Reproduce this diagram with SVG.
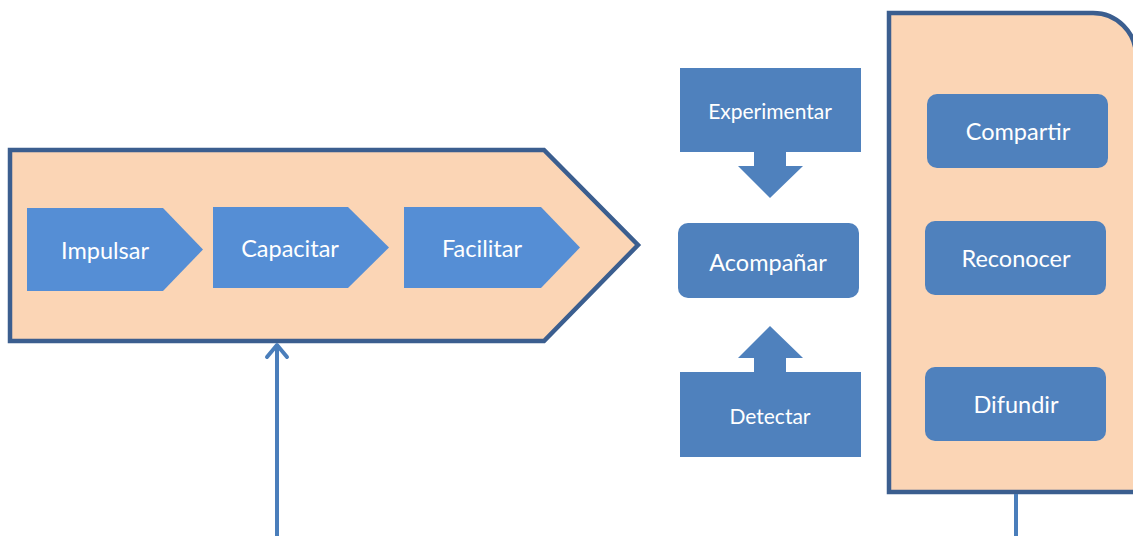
<svg xmlns="http://www.w3.org/2000/svg" width="1133" height="536" viewBox="0 0 1133 536">
<defs>
<style>
.frame{fill:#fbd5b5;stroke:#3b5e8f;stroke-width:4.5;stroke-linejoin:miter}
.chev{fill:#558ed5}
.box{fill:#4f81bd}
.lbl{font-family:Lato,"Open Sans","Liberation Sans",sans-serif;fill:#ffffff;text-anchor:middle;dominant-baseline:central}
.big{font-size:23.5px}
.small{font-size:21px}
.conn{stroke:#4a7ebb;stroke-width:4;fill:none}
</style>
</defs>
<rect width="1133" height="536" fill="#ffffff"/>
<g id="proceso">
<path class="frame" d="M10,150 L544,150 L638,245 L544,341 L10,341 Z"/>
</g>
<g id="impulsar">
<path class="chev" d="M27,208 L163,208 L203,249.5 L163,291 L27,291 Z"/>
<text class="lbl big" x="105" y="250">Impulsar</text>
</g>
<g id="capacitar">
<path class="chev" d="M213,207 L348,207 L389,247.5 L348,288 L213,288 Z"/>
<text class="lbl big" x="290" y="248">Capacitar</text>
</g>
<g id="facilitar">
<path class="chev" d="M404,207 L541,207 L580,247.5 L541,288 L404,288 Z"/>
<text class="lbl big" x="482" y="248">Facilitar</text>
</g>
<g id="experimentar">
<rect class="box" x="680" y="68" width="181" height="84"/>
<path class="box" d="M754,152 L786,152 L786,166 L803,166 L770,198 L738,166 L754,166 Z"/>
<text class="lbl small" x="770" y="110">Experimentar</text>
</g>
<g id="acompanar">
<rect class="box" x="678" y="223" width="181" height="75" rx="10"/>
<text class="lbl big" x="768" y="262">Acompañar</text>
</g>
<g id="detectar">
<rect class="box" x="680" y="372" width="181" height="85"/>
<path class="box" d="M770,326 L803,358 L786,358 L786,372 L754,372 L754,358 L738,358 Z"/>
<text class="lbl small" x="770" y="415">Detectar</text>
</g>
<g id="panel">
<path class="frame" d="M889,13 L1093,13 A43,43 0 0 1 1136,56 L1136,492 L889,492 Z"/>
</g>
<g id="compartir">
<rect class="box" x="927" y="94" width="181" height="74" rx="10"/>
<text class="lbl big" x="1018" y="131">Compartir</text>
</g>
<g id="reconocer">
<rect class="box" x="925" y="221" width="181" height="74" rx="10"/>
<text class="lbl big" x="1016" y="258">Reconocer</text>
</g>
<g id="difundir">
<rect class="box" x="925" y="367" width="181" height="74" rx="10"/>
<text class="lbl big" x="1016" y="404">Difundir</text>
</g>
<g id="connectors">
<line class="conn" x1="277" y1="536" x2="277" y2="346"/>
<path class="conn" d="M267,357 L277,345 L287,357" stroke-linecap="round" stroke-linejoin="round"/>
<line class="conn" x1="1016" y1="494" x2="1016" y2="536" stroke-width="3.5"/>
</g>
</svg>
